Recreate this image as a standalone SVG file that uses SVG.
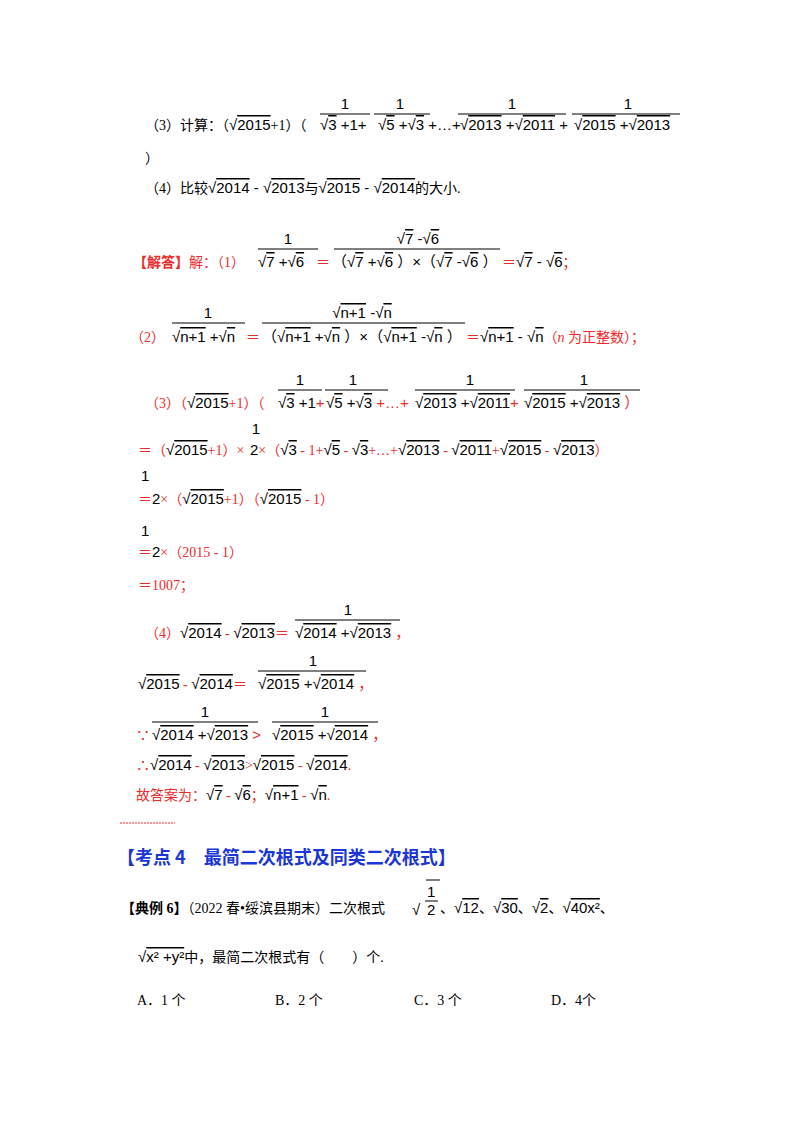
<svg xmlns="http://www.w3.org/2000/svg" width="800" height="1132" viewBox="0 0 800 1132">
<style>
text{font-family:"Liberation Serif","Noto Sans CJK SC",serif;font-size:14px;fill:#000}
.m{font-family:"Liberation Sans","Noto Sans CJK SC",sans-serif;font-size:15px}
.r{fill:#ee2a2a}
.ov{text-decoration:overline}
.c{text-anchor:middle}
line{stroke:#000;stroke-width:1}
.rl{stroke:#ee2a2a}
.h{font-family:"Noto Sans CJK SC",sans-serif;font-weight:bold;font-size:18px;fill:#1b36d6}
</style>
<rect width="800" height="1132" fill="#fff"/>
<!-- (3) question -->
<text x="145" y="130">（3）计算：（<tspan class="m">√<tspan class="ov">2015</tspan></tspan>+1）（</text>
<g class="m">
<text class="m c" x="345" y="109">1</text><line x1="320" y1="114" x2="370" y2="114"/>
<text class="m" x="320" y="130">√<tspan class="ov">3</tspan> +1+</text>
<text class="m c" x="400" y="109">1</text><line x1="374" y1="114" x2="430" y2="114"/>
<text class="m" x="378" y="130">√<tspan class="ov">5</tspan> +√<tspan class="ov">3</tspan> +…+</text>
<text class="m c" x="512" y="109">1</text><line x1="458" y1="114" x2="566" y2="114"/>
<text class="m" x="460" y="130">√<tspan class="ov">2013</tspan> +√<tspan class="ov">2011</tspan> +</text>
<text class="m c" x="628" y="109">1</text><line x1="572" y1="114" x2="680" y2="114"/>
<text class="m" x="574" y="130">√<tspan class="ov">2015</tspan> +√<tspan class="ov">2013</tspan></text>
</g>
<text x="145" y="163">）</text>
<text x="145" y="193">（4）比较<tspan class="m">√<tspan class="ov">2014</tspan> - √<tspan class="ov">2013</tspan></tspan>与<tspan class="m">√<tspan class="ov">2015</tspan> - √<tspan class="ov">2014</tspan></tspan>的大小.</text>
<!-- solution (1) -->
<text class="r" x="133" y="267"><tspan font-weight="bold">【解答】</tspan>解：（1）</text>
<text class="m c" x="288" y="244">1</text><line x1="258" y1="249" x2="318" y2="249"/>
<text class="m" x="258" y="267">√<tspan class="ov">7</tspan> +√<tspan class="ov">6</tspan></text>
<text class="r" x="316" y="267">＝</text>
<text class="m c" x="418" y="244">√<tspan class="ov">7</tspan> -√<tspan class="ov">6</tspan></text><line x1="334" y1="249" x2="500" y2="249"/>
<text class="m" x="332" y="267">（√<tspan class="ov">7</tspan> +√<tspan class="ov">6</tspan> ）×（√<tspan class="ov">7</tspan> -√<tspan class="ov">6</tspan> ）</text>
<text class="r" x="502" y="267">＝<tspan class="m" fill="#000">√<tspan class="ov">7</tspan> - √<tspan class="ov">6</tspan></tspan>；</text>
<!-- (2) -->
<text class="r" x="130" y="342">（2）</text>
<text class="m c" x="208" y="318">1</text><line x1="172" y1="323" x2="245" y2="323"/>
<text class="m" x="172" y="342">√<tspan class="ov">n+1</tspan> +√<tspan class="ov">n</tspan></text>
<text class="r" x="246" y="342">＝</text>
<text class="m c" x="362" y="318">√<tspan class="ov">n+1</tspan> -√<tspan class="ov">n</tspan></text><line x1="262" y1="323" x2="465" y2="323"/>
<text class="m" x="262" y="342">（√<tspan class="ov">n+1</tspan> +√<tspan class="ov">n</tspan> ）×（√<tspan class="ov">n+1</tspan> -√<tspan class="ov">n</tspan> ）</text>
<text class="r" x="466" y="342">＝<tspan class="m" fill="#000">√<tspan class="ov">n+1</tspan> - √<tspan class="ov">n</tspan></tspan>（<tspan font-style="italic">n</tspan> 为正整数）；</text>
<!-- (3) -->
<text class="r" x="145" y="408">（3）（<tspan class="m" fill="#000">√<tspan class="ov">2015</tspan></tspan>+1）（</text>
<text class="m c" x="300" y="385">1</text><line x1="278" y1="390" x2="322" y2="390"/>
<text class="m" x="278" y="408">√<tspan class="ov">3</tspan> +1<tspan fill="#ee2a2a">+</tspan></text>
<text class="m c" x="353" y="385">1</text><line x1="325" y1="390" x2="388" y2="390"/>
<text class="m" x="326" y="408">√<tspan class="ov">5</tspan> +√<tspan class="ov">3</tspan><tspan fill="#ee2a2a"> +…+</tspan></text>
<text class="m c" x="470" y="385">1</text><line x1="415" y1="390" x2="515" y2="390"/>
<text class="m" x="415" y="408">√<tspan class="ov">2013</tspan> +√<tspan class="ov">2011</tspan><tspan fill="#ee2a2a">+</tspan></text>
<text class="m c" x="584" y="385">1</text><line x1="524" y1="390" x2="640" y2="390"/>
<text class="m" x="524" y="408">√<tspan class="ov">2015</tspan> +√<tspan class="ov">2013</tspan><tspan fill="#ee2a2a"> ）</tspan></text>
<text class="r" x="138" y="455">＝（<tspan class="m" fill="#000">√<tspan class="ov">2015</tspan></tspan>+1）×</text>
<text class="m c" x="256" y="434">1</text>
<text class="r" x="250" y="455"><tspan class="m" fill="#000">2</tspan>×（<tspan class="m" fill="#000">√<tspan class="ov">3</tspan></tspan> - 1+<tspan class="m" fill="#000">√<tspan class="ov">5</tspan></tspan> - <tspan class="m" fill="#000">√<tspan class="ov">3</tspan></tspan>+…+<tspan class="m" fill="#000">√<tspan class="ov">2013</tspan></tspan> - <tspan class="m" fill="#000">√<tspan class="ov">2011</tspan></tspan>+<tspan class="m" fill="#000">√<tspan class="ov">2015</tspan></tspan> - <tspan class="m" fill="#000">√<tspan class="ov">2013</tspan></tspan>）</text>
<text class="m" x="141" y="481">1</text>
<text class="r" x="138" y="504">＝<tspan class="m" fill="#000">2</tspan>×（<tspan class="m" fill="#000">√<tspan class="ov">2015</tspan></tspan>+1）（<tspan class="m" fill="#000">√<tspan class="ov">2015</tspan></tspan> - 1）</text>
<text class="m" x="141" y="536">1</text>
<text class="r" x="138" y="557">＝<tspan class="m" fill="#000">2</tspan>×（2015 - 1）</text>
<text class="r" x="138" y="590">＝1007；</text>
<!-- (4) -->
<text class="r" x="145" y="638">（4）<tspan class="m" fill="#000">√<tspan class="ov">2014</tspan></tspan> - <tspan class="m" fill="#000">√<tspan class="ov">2013</tspan></tspan>＝</text>
<text class="m c" x="348" y="615">1</text><line x1="295" y1="620" x2="400" y2="620"/>
<text class="m" x="295" y="638">√<tspan class="ov">2014</tspan> +√<tspan class="ov">2013</tspan><tspan fill="#ee2a2a"> ，</tspan></text>
<text class="r" x="138" y="689"><tspan class="m" fill="#000">√<tspan class="ov">2015</tspan></tspan> - <tspan class="m" fill="#000">√<tspan class="ov">2014</tspan></tspan>＝</text>
<text class="m c" x="313" y="666">1</text><line x1="258" y1="671" x2="366" y2="671"/>
<text class="m" x="258" y="689">√<tspan class="ov">2015</tspan> +√<tspan class="ov">2014</tspan><tspan fill="#ee2a2a"> ，</tspan></text>
<text class="r" x="136" y="740">∵</text>
<text class="m c" x="205" y="717">1</text><line x1="152" y1="722" x2="258" y2="722"/>
<text class="m" x="152" y="740">√<tspan class="ov">2014</tspan> +√<tspan class="ov">2013</tspan><tspan fill="#ee2a2a"> &gt;</tspan></text>
<text class="m c" x="325" y="717">1</text><line x1="272" y1="722" x2="378" y2="722"/>
<text class="m" x="272" y="740">√<tspan class="ov">2015</tspan> +√<tspan class="ov">2014</tspan><tspan fill="#ee2a2a"> ，</tspan></text>
<text class="r" x="136" y="770">∴<tspan class="m" fill="#000">√<tspan class="ov">2014</tspan></tspan> - <tspan class="m" fill="#000">√<tspan class="ov">2013</tspan></tspan>&gt;<tspan class="m" fill="#000">√<tspan class="ov">2015</tspan></tspan> - <tspan class="m" fill="#000">√<tspan class="ov">2014</tspan></tspan>.</text>
<text class="r" x="136" y="800">故答案为：<tspan class="m" fill="#000">√<tspan class="ov">7</tspan></tspan> - <tspan class="m" fill="#000">√<tspan class="ov">6</tspan></tspan>；<tspan class="m" fill="#000">√<tspan class="ov">n+1</tspan></tspan> - <tspan class="m" fill="#000">√<tspan class="ov">n</tspan></tspan>.</text>
<line class="rl" x1="120" y1="823" x2="175" y2="823" stroke-dasharray="2,1"/>
<!-- heading -->
<text class="h" x="117" y="864">【考点 4　最简二次根式及同类二次根式】</text>
<text x="121" y="913"><tspan font-weight="bold">【典例 6】</tspan>（2022 春•绥滨县期末）二次根式</text>
<text class="m" x="412" y="915" font-size="24">√</text>
<line x1="426" y1="880" x2="440" y2="880"/>
<text class="m" x="427" y="897">1</text><line x1="425" y1="901" x2="438" y2="901"/>
<text class="m" x="427" y="915">2</text>
<text x="440" y="913">、<tspan class="m">√<tspan class="ov">12</tspan></tspan>、<tspan class="m">√<tspan class="ov">30</tspan></tspan>、<tspan class="m">√<tspan class="ov">2</tspan></tspan>、<tspan class="m">√<tspan class="ov">40x²</tspan></tspan>、</text>
<text x="138" y="962"><tspan class="m">√<tspan class="ov">x² +y²</tspan></tspan>中，最简二次根式有（　　）个.</text>
<text x="137" y="1005">A．1 个</text>
<text x="275" y="1005">B．2 个</text>
<text x="414" y="1005">C．3 个</text>
<text x="551" y="1005">D．4个</text>
</svg>
